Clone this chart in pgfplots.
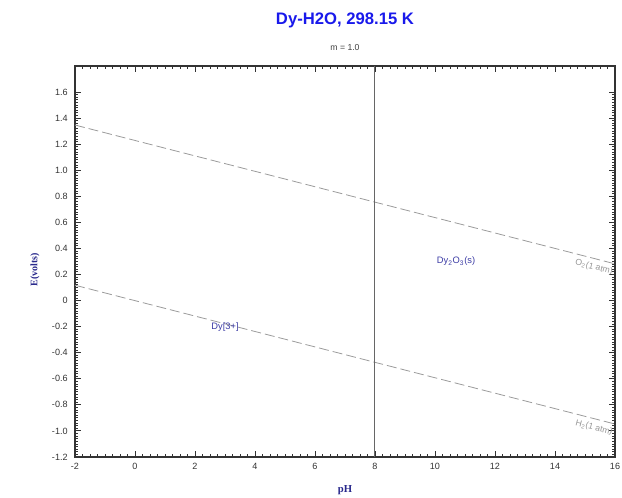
\documentclass[border=0pt]{standalone}
\usepackage{pgfplots}
\pgfplotsset{compat=1.18}
\usepackage{fontspec}
\setmainfont{Liberation Sans}
\newfontfamily\serifb{Liberation Serif}
\definecolor{titleblue}{RGB}{25,25,235}
\definecolor{labelblue}{RGB}{40,40,140}
\definecolor{regblue}{RGB}{60,60,165}
\definecolor{linegray}{RGB}{155,155,155}
\definecolor{txtgray}{RGB}{150,150,150}
\begin{document}
\begin{tikzpicture}[x=1pt,y=1pt]
\path[use as bounding box] (-56.25,-30) rectangle (410.25,342.75);
\begin{axis}[
  scale only axis, width=405pt, height=293.25pt,
  xmin=-2, xmax=16, ymin=-1.2, ymax=1.8,
  xtick={-2,0,2,4,6,8,10,12,14,16},
  xticklabels={-2,0,2,4,6,8,10,12,14,16},
  ytick={-1.2,-1.0,-0.8,-0.6,-0.4,-0.2,0,0.2,0.4,0.6,0.8,1.0,1.2,1.4,1.6},
  yticklabels={-1.2,-1.0,-0.8,-0.6,-0.4,-0.2,0,0.2,0.4,0.6,0.8,1.0,1.2,1.4,1.6},
  minor x tick num=7, minor y tick num=9,
  tick align=inside,
  major tick length=4.5pt, minor tick length=2.2pt,
  axis line style={draw=black!80, line width=1pt},
  every tick/.style={black!80, line width=0.7pt},
  tick label style={font=\fontsize{6.8}{7.5}\selectfont, text=black!80},
  xticklabel style={yshift=-1pt},
  yticklabel style={xshift=-2pt},
  clip=true,
]
\addplot[linegray, line width=0.6pt, dash pattern=on 7.5pt off 3pt] coordinates {(-2,1.347) (16,0.282)};
\addplot[linegray, line width=0.6pt, dash pattern=on 7.5pt off 3pt] coordinates {(-2,0.118) (16,-0.947)};
\addplot[black!60, line width=0.7pt] coordinates {(7.98,-1.2) (7.98,1.8)};
\node[font=\fontsize{7}{8}\selectfont, text=regblue] at (axis cs:10.7,0.3) {Dy\textsubscript{2}O\textsubscript{3}(s)};
\node[font=\fontsize{7}{8}\selectfont, text=regblue] at (axis cs:3.0,-0.2) {Dy[3+]};
\node[font=\fontsize{6.5}{7}\selectfont, text=txtgray, rotate=-14.4, inner sep=0pt] at (axis cs:15.3,0.255) {O\textsubscript{2}(1 atm)};
\node[font=\fontsize{6.5}{7}\selectfont, text=txtgray, rotate=-14.4, inner sep=0pt] at (axis cs:15.3,-0.975) {H\textsubscript{2}(1 atm)};
\end{axis}
\node[font=\bfseries\fontsize{12.5}{14}\selectfont, text=titleblue] at (202.5,327.75) {Dy-H2O, 298.15 K};
\node[font=\fontsize{6.5}{7}\selectfont, text=black!75] at (202.5,306.75) {m = 1.0};
\node[rotate=90, font=\serifb\bfseries\fontsize{7.5}{9}\selectfont, text=labelblue] at (-30,140.25) {E(volts)};
\node[font=\serifb\bfseries\fontsize{8}{9}\selectfont, text=labelblue] at (202.5,-24.75) {pH};
\end{tikzpicture}
\end{document}
